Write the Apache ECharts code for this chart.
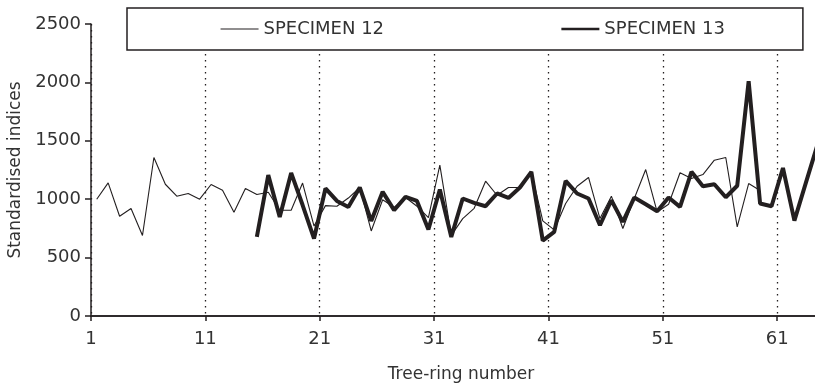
<!DOCTYPE html>
<html>
<head>
<meta charset="utf-8">
<script src="https://cdn.jsdelivr.net/npm/echarts@6/dist/echarts.min.js"></script>
<style>
  html, body { margin: 0; padding: 0; background: #fff; }
  #chart { width: 815px; height: 388px; }
</style>
</head>
<body>
<div id="chart"></div>
<script>
  // ring-width indices, one value per tree ring
  const firstRing12 = 1
  const specimen12 = [
    1000, 1140, 854, 920, 689, 1357, 1128, 1026, 1049, 1000,
    1126, 1077, 889, 1092, 1040, 1060, 906, 906, 1138, 770,
    945, 940, 1010, 1100, 728, 995, 930, 1015, 940, 843,
    1291, 690, 834, 922, 1154, 1034, 1100, 1100, 1234, 815,
    737, 963, 1111, 1186, 834, 1026, 749, 1006, 1254, 891,
    957, 1226, 1177, 1211, 1334, 1357, 763, 1134, 1075
  ]
  const firstRing13 = 15
  const specimen13 = [
    677, 1206, 848, 1225, 950, 663, 1092, 985, 934, 1100,
    814, 1063, 906, 1020, 985, 740, 1083, 677, 1006, 968,
    940, 1049, 1011, 1100, 1234, 646, 720, 1157, 1049, 1006,
    777, 991, 806, 1014, 957, 897, 1014, 934, 1234, 1111,
    1128, 1017, 1115, 2010, 963, 940, 1267, 817, 1140, 1460
  ]
  const ink = '#231f20'
  const font = 'DejaVu Sans'

  // each ring is drawn in the middle of its unit step on the axis
  const toPoints = (first, values) => values.map((v, i) => [first + i + 0.5, v])

  const chart = echarts.init(document.getElementById('chart'))
  chart.setOption({
    animation: false,
    // the original figure runs on past the right edge of the picture
    grid: { left: 91, top: 24, bottom: 72, width: 740, outerBoundsMode: 'none' },
    legend: {
      left: 127,
      top: 8,
      padding: [12, 78, 12, 93],
      itemGap: 176,
      itemWidth: 38,
      itemHeight: 18,
      backgroundColor: '#fff',
      borderColor: ink,
      borderWidth: 1.5,
      borderRadius: 0,
      itemStyle: { opacity: 0 },
      textStyle: { fontFamily: font, fontSize: 18, color: '#333' },
      data: [
        { name: 'SPECIMEN 12', lineStyle: { width: 1.1 } },
        { name: 'SPECIMEN 13', lineStyle: { width: 2.6 } }
      ]
    },
    xAxis: [
      {
        type: 'value',
        min: 1,
        max: 65.7,
        interval: 10,
        name: 'Tree-ring number',
        nameLocation: 'middle',
        nameGap: 50,
        nameTextStyle: { fontFamily: font, fontSize: 17, color: '#333' },
        axisLine: { show: true, onZero: false, lineStyle: { color: ink, width: 1.5 } },
        axisTick: { show: true, length: 5, lineStyle: { color: ink, width: 1.5 } },
        axisLabel: { fontFamily: font, fontSize: 18, color: '#333', margin: 14, showMaxLabel: false },
        splitLine: { show: true, lineStyle: { color: ink, width: 1.3, type: [1.5, 4.5] } }
      },
      {
        type: 'value',
        position: 'top',
        min: 1,
        max: 65.7,
        axisLine: { show: true, lineStyle: { color: ink, width: 1.5 } },
        axisTick: { show: false },
        axisLabel: { show: false },
        splitLine: { show: false }
      }
    ],
    yAxis: {
      type: 'value',
      min: 0,
      max: 2500,
      interval: 500,
      name: 'Standardised indices',
      nameLocation: 'middle',
      nameGap: 59,
      nameTextStyle: { fontFamily: font, fontSize: 17, color: '#333' },
      axisLine: { show: true, lineStyle: { color: ink, width: 1.5 } },
      axisTick: { show: true, length: 6, lineStyle: { color: ink, width: 1.5 } },
      axisLabel: { fontFamily: font, fontSize: 18, color: '#333', margin: 10, formatter: (v) => String(v) },
      splitLine: { show: false }
    },
    series: [
      {
        name: 'SPECIMEN 12',
        type: 'line',
        data: toPoints(firstRing12, specimen12),
        symbol: 'none',
        color: ink,
        lineStyle: { color: ink, width: 1.1 }
      },
      {
        name: 'SPECIMEN 13',
        type: 'line',
        data: toPoints(firstRing13, specimen13),
        symbol: 'none',
        color: ink,
        lineStyle: { color: ink, width: 4 }
      }
    ]
  })
</script>
</body>
</html>
